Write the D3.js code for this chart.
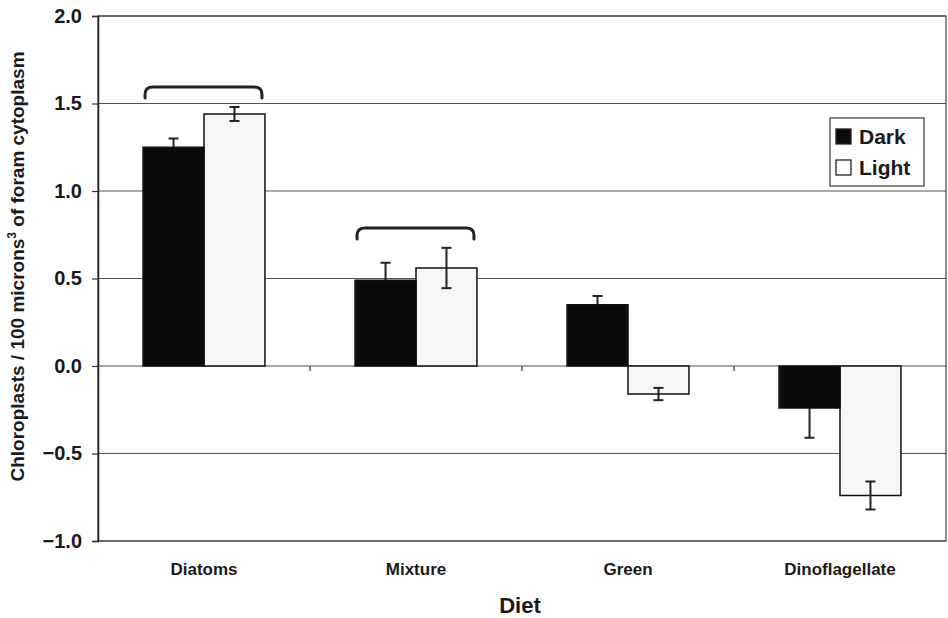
<!DOCTYPE html>
<html>
<head>
<meta charset="utf-8">
<script src="https://cdn.jsdelivr.net/npm/d3@7"></script>
<style>
  body { margin: 0; background: #fff; }
  text { font-family: "Liberation Sans", Arial, sans-serif; font-weight: bold; fill: #1a1a1a; }
</style>
</head>
<body>
<div id="chart"></div>
<script>
// Data
const categories = ["Diatoms", "Mixture", "Green", "Dinoflagellate"];
const series = ["Dark", "Light"];
const darkValues = [1.25, 0.49, 0.35, -0.24];
const darkErrors = [0.05, 0.10, 0.05, 0.17];
const lightValues = [1.44, 0.56, -0.16, -0.74];
const lightErrors = [0.04, 0.115, 0.035, 0.08];
const yTicks = [-1.0, -0.5, 0.0, 0.5, 1.0, 1.5, 2.0];
const bracketGroups = ["Diatoms", "Mixture"];

const rows = categories.map((c, i) => ({
    cat: c,
    bars: [
        {series: "Dark", value: darkValues[i], err: darkErrors[i]},
        {series: "Light", value: lightValues[i], err: lightErrors[i]}
    ]
}));

const W = 948, H = 618;
const margin = {top: 16, right: 2, bottom: 77, left: 98};
const width = W - margin.left - margin.right;
const height = H - margin.top - margin.bottom;

const svg = d3.select("#chart").append("svg")
    .attr("width", W)
    .attr("height", H);

const g = svg.append("g")
    .attr("transform", `translate(${margin.left},${margin.top})`);

const x0 = d3.scaleBand()
    .domain(categories)
    .range([0, width])
    .paddingInner(0.425)
    .paddingOuter(0.2125);

const x1 = d3.scaleBand()
    .domain(series)
    .range([0, x0.bandwidth()]);

const y = d3.scaleLinear()
    .domain([-1, 2])
    .range([height, 0]);

const fill = d3.scaleOrdinal().domain(series).range(["#0b0b0b", "#f6f6f6"]);

// gridlines
g.selectAll(".grid")
    .data(yTicks)
    .enter()
    .append("line")
    .attr("x1", 0)
    .attr("x2", width)
    .attr("y1", d => y(d))
    .attr("y2", d => y(d))
    .attr("stroke", "#555")
    .attr("stroke-width", 1.2);

// plot border
g.append("rect")
    .attr("x", 0)
    .attr("y", 0)
    .attr("width", width)
    .attr("height", height)
    .attr("fill", "none")
    .attr("stroke", "#444")
    .attr("stroke-width", 1.2);

// y axis
const yAxis = g.append("g")
    .call(d3.axisLeft(y).tickValues(yTicks).tickFormat(d3.format(".1f")).tickSize(6).tickPadding(10));
yAxis.select(".domain").attr("stroke", "#222").attr("stroke-width", 1.5);
yAxis.selectAll(".tick line").attr("stroke", "#333").attr("stroke-width", 1.2);
yAxis.selectAll(".tick text")
    .attr("font-size", 20)
    .attr("font-family", "Liberation Sans, Arial, sans-serif")
    .attr("font-weight", "bold")
    .attr("fill", "#1a1a1a");

// category boundary ticks on the zero line
const bounds = categories.slice(1).map(c => x0(c) - x0.step() * x0.paddingInner() / 2);
g.selectAll(".ctick")
    .data(bounds)
    .enter()
    .append("line")
    .attr("x1", d => d)
    .attr("x2", d => d)
    .attr("y1", y(0))
    .attr("y2", y(0) + 5)
    .attr("stroke", "#333")
    .attr("stroke-width", 1.2);

// bars: light first, then error bars, then dark bars on top so
// the inner half of the dark error bars is hidden like in the scan
const groups = g.selectAll(".group")
    .data(rows)
    .enter()
    .append("g")
    .attr("transform", d => `translate(${x0(d.cat)},0)`);

const drawBars = s => groups.selectAll(".bar-" + s)
    .data(d => d.bars.filter(b => b.series === s))
    .enter()
    .append("rect")
    .attr("x", d => x1(d.series))
    .attr("width", x1.bandwidth())
    .attr("y", d => y(Math.max(0, d.value)))
    .attr("height", d => Math.abs(y(d.value) - y(0)))
    .attr("fill", d => fill(d.series))
    .attr("stroke", "#111")
    .attr("stroke-width", 1.5);

drawBars("Light");

const capW = 10;
const eb = groups.selectAll(".err")
    .data(d => d.bars)
    .enter()
    .append("g")
    .attr("stroke", "#222")
    .attr("stroke-width", 2);

eb.append("line")
    .attr("x1", d => x1(d.series) + x1.bandwidth() / 2)
    .attr("x2", d => x1(d.series) + x1.bandwidth() / 2)
    .attr("y1", d => y(d.value - d.err))
    .attr("y2", d => y(d.value + d.err));
eb.append("line")
    .attr("x1", d => x1(d.series) + x1.bandwidth() / 2 - capW / 2)
    .attr("x2", d => x1(d.series) + x1.bandwidth() / 2 + capW / 2)
    .attr("y1", d => y(d.value + d.err))
    .attr("y2", d => y(d.value + d.err));
eb.append("line")
    .attr("x1", d => x1(d.series) + x1.bandwidth() / 2 - capW / 2)
    .attr("x2", d => x1(d.series) + x1.bandwidth() / 2 + capW / 2)
    .attr("y1", d => y(d.value - d.err))
    .attr("y2", d => y(d.value - d.err));

drawBars("Dark");

// brackets over groups
const bracketPath = d => {
    const top = d3.max(d.bars, b => b.value + b.err);
    const by = y(top) - 20;
    const xa = x0(d.cat) + 2, xb = x0(d.cat) + x0.bandwidth() - 3;
    return `M${xa},${by + 11} L${xa},${by + 7} Q${xa},${by} ${xa + 8},${by} ` +
           `L${xb - 8},${by} Q${xb},${by} ${xb},${by + 7} L${xb},${by + 11}`;
};
g.selectAll(".bracket")
    .data(rows.filter(r => bracketGroups.includes(r.cat)))
    .enter()
    .append("path")
    .attr("d", bracketPath)
    .attr("fill", "none")
    .attr("stroke", "#222")
    .attr("stroke-width", 3)
    .attr("stroke-linecap", "round");

// category labels
g.selectAll(".clabel")
    .data(categories)
    .enter()
    .append("text")
    .attr("x", d => x0(d) + x0.bandwidth() / 2)
    .attr("y", height + 34)
    .attr("text-anchor", "middle")
    .attr("font-size", 17)
    .text(d => d);

// axis titles
svg.append("text")
    .attr("x", 520)
    .attr("y", 613)
    .attr("text-anchor", "middle")
    .attr("font-size", 22)
    .text("Diet");

const yt = svg.append("text")
    .attr("transform", `translate(24,${margin.top + height / 2 - 12}) rotate(-90)`)
    .attr("text-anchor", "middle")
    .attr("font-size", 19);
yt.append("tspan").text("Chloroplasts / 100 microns");
yt.append("tspan").attr("font-size", 12).attr("dy", -8).text("3");
yt.append("tspan").attr("dy", 8).text(" of foram cytoplasm");

// legend
const legend = svg.append("g").attr("transform", "translate(830,118)");
legend.append("rect")
    .attr("width", 94)
    .attr("height", 68)
    .attr("fill", "#fff")
    .attr("stroke", "#333")
    .attr("stroke-width", 1.2);
const li = legend.selectAll(".li")
    .data(series)
    .enter()
    .append("g")
    .attr("transform", (d, i) => `translate(6,${11 + i * 31})`);
li.append("rect")
    .attr("width", 15)
    .attr("height", 15)
    .attr("fill", d => d === "Dark" ? fill(d) : "#fff")
    .attr("stroke", "#222")
    .attr("stroke-width", 1.3);
li.append("text")
    .attr("x", 23)
    .attr("y", 15)
    .attr("font-size", 21)
    .text(d => d);
</script>
</body>
</html>
